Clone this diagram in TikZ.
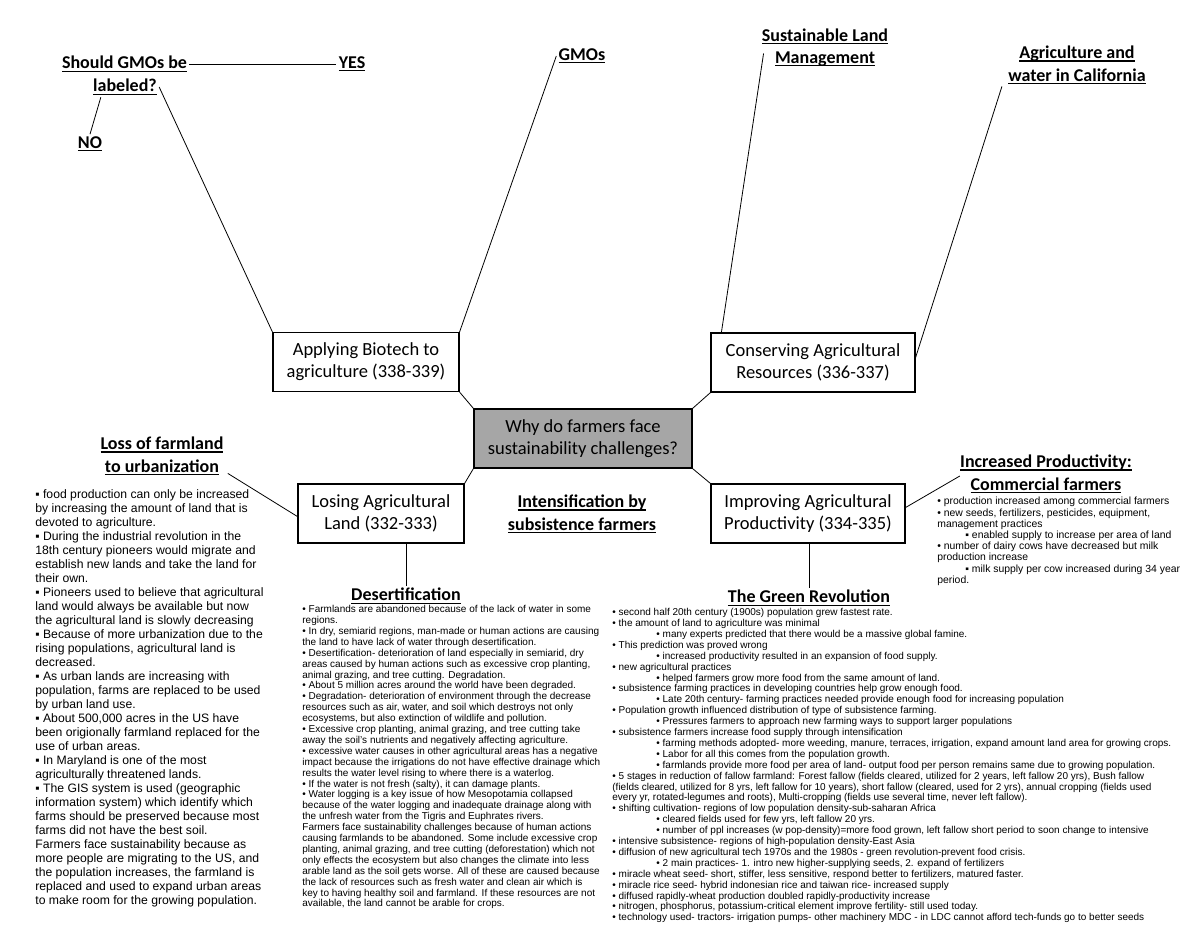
\documentclass[tikz,border=0pt]{standalone}
\usepackage{fontspec}
\setmainfont{Liberation Sans}
\newfontfamily\calfont{Carlito}
\usetikzlibrary{calc}
\newcommand\uline[1]{\leavevmode\setbox0=\hbox{#1}\rlap{\rule[-1.5pt]{\wd0}{0.6pt}}\box0}
\newcommand\ind{\hspace*{22pt}}
\newcommand\sind{\hspace*{14pt}}
\begin{document}
\begin{tikzpicture}[x=0.5pt,y=-0.5pt,
  box/.style={draw, line width=0.6pt, align=center, font=\calfont\fontsize{9.25}{11}\selectfont, inner sep=0pt},
  ttl/.style={align=center, font=\calfont\bfseries\fontsize{9}{11.2}\selectfont, inner sep=1pt},
  link/.style={line width=0.4pt},
  bigtxt/.style={anchor=north west, align=left, inner sep=0pt, font=\fontsize{6.1}{7}\selectfont},
  smalltxt/.style={anchor=north west, align=left, inner sep=0pt, font=\fontsize{5}{5.45}\selectfont},
  commtxt/.style={anchor=north west, align=left, inner sep=0pt, font=\fontsize{5.2}{5.6}\selectfont},
]
\useasboundingbox (0,0) rectangle (1200,927);
\fill[white] (0,0) rectangle (1200,927);

% boxes
\node[box, minimum width=93pt, minimum height=29.5pt] (bio) at (366,362) {Applying Biotech to\\agriculture (338-339)};
\node[box, minimum width=102pt, minimum height=29.5pt] (cons) at (813,362.5) {Conserving Agricultural\\Resources (336-337)};
\node[box, minimum width=109pt, minimum height=29.5pt, fill={rgb,255:red,166;green,166;blue,166}] (ctr) at (583,438.5) {Why do farmers face\\sustainability challenges?};
\node[box, minimum width=83pt, minimum height=29.5pt] (losing) at (381,513.5) {Losing Agricultural\\Land (332-333)};
\node[box, minimum width=97pt, minimum height=29.5pt] (imp) at (808,513.5) {Improving Agricultural\\Productivity (334-335)};

% titles
\node[ttl] (q1) at (124.5,64) {\uline{Should GMOs be}};
\node[ttl] (q2) at (125,87) {\uline{labeled?}};
\node[ttl] (yes) at (352,64) {\uline{YES}};
\node[ttl] (no) at (90,144) {\uline{NO}};
\node[ttl] (gmo) at (582,56) {\uline{GMOs}};
\node[ttl] (slm) at (825,47.5) {\uline{Sustainable Land}\\\uline{Management}};
\node[ttl] (cal) at (1077,65) {\uline{Agriculture and}\\\uline{water in California}};
\node[ttl] (loss) at (162,456) {\uline{Loss of farmland}\\\uline{to urbanization}};
\node[ttl] (intens) at (582,514) {\uline{Intensification by}\\\uline{subsistence farmers}};
\node[ttl] (comm) at (1046,474) {\uline{Increased Productivity:}\\\uline{Commercial farmers}};
\node[ttl] (desert) at (406,596) {\uline{Desertification}};
\node[ttl] (green) at (809,598) {\uline{The Green Revolution}};

% connectors
\draw[link] (q1.east) -- (yes.west);
\draw[link] ($(q2.south west)+(10,0)$) -- (no.north);
\draw[link] (q2.east) -- (bio.north west);
\draw[link] (gmo.west) -- (bio.north east);
\draw[link] ($(slm.west)+(4,6)$) -- ($(cons.north west)+(11,0)$);
\draw[link] ($(cal.south west)+(-4,0)$) -- ($(cons.east)+(0,-5)$);
\draw[link] (bio.south east) -- (ctr.north west);
\draw[link] (cons.south west) -- (ctr.north east);
\draw[link] (losing.north east) -- (ctr.south west);
\draw[link] (imp.north west) -- (ctr.south east);
\draw[link] ($(loss.south east)+(2,-4)$) -- ($(losing.west)+(0,3)$);
\draw[link] (desert.north) -- (desert.north |- losing.south);
\draw[link] (green.north) -- (green.north |- imp.south);
\draw[link] ($(imp.east)+(0,-6)$) -- ($(comm.west)+(2,2)$);
\draw[link] ($(intens.east)+(0,5)$) -- ($(intens.east)+(0,5)$ -| imp.west);

% text blocks
\node[bigtxt] (lefttxt) at (35,489) {%
▪ food production can only be increased\\
by increasing the amount of land that is\\
devoted to agriculture.\\
▪ During the industrial revolution in the\\
18th century pioneers would migrate and\\
establish new lands and take the land for\\
their own.\\
▪ Pioneers used to believe that agricultural\\
land would always be available but now\\
the agricultural land is slowly decreasing\\
▪ Because of more urbanization due to the\\
rising populations, agricultural land is\\
decreased.\\
▪ As urban lands are increasing with\\
population, farms are replaced to be used\\
by urban land use.\\
▪ About 500,000 acres in the US have\\
been origionally farmland replaced for the\\
use of urban areas.\\
▪ In Maryland is one of the most\\
agriculturally threatened lands.\\
▪ The GIS system is used (geographic\\
information system) which identify which\\
farms should be preserved because most\\
farms did not have the best soil.\\
Farmers face sustainability because as\\
more people are migrating to the US, and\\
the population increases, the farmland is\\
replaced and used to expand urban areas\\
to make room for the growing population.};

\node[smalltxt] (deserttxt) at (302,605) {%
• Farmlands are abandoned because of the lack of water in some\\
regions.\\
• In dry, semiarid regions, man-made or human actions are causing\\
the land to have lack of water through desertification.\\
• Desertification- deterioration of land especially in semiarid, dry\\
areas caused by human actions such as excessive crop planting,\\
animal grazing, and tree cutting. Degradation.\\
• About 5 million acres around the world have been degraded.\\
• Degradation- deterioration of environment through the decrease\\
resources such as air, water, and soil which destroys not only\\
ecosystems, but also extinction of wildlife and pollution.\\
• Excessive crop planting, animal grazing, and tree cutting take\\
away the soil's nutrients and negatively affecting agriculture.\\
• excessive water causes in other agricultural areas has a negative\\
impact because the irrigations do not have effective drainage which\\
results the water level rising to where there is a waterlog.\\
• If the water is not fresh (salty), it can damage plants.\\
• Water logging is a key issue of how Mesopotamia collapsed\\
because of the water logging and inadequate drainage along with\\
the unfresh water from the Tigris and Euphrates rivers.\\
Farmers face sustainability challenges because of human actions\\
causing farmlands to be abandoned. Some include excessive crop\\
planting, animal grazing, and tree cutting (deforestation) which not\\
only effects the ecosystem but also changes the climate into less\\
arable land as the soil gets worse. All of these are caused because\\
the lack of resources such as fresh water and clean air which is\\
key to having healthy soil and farmland. If these resources are not\\
available, the land cannot be arable for crops.};

\node[smalltxt] (greentxt) at (612,608) {%
• second half 20th century (1900s) population grew fastest rate.\\
• the amount of land to agriculture was minimal\\
\ind• many experts predicted that there would be a massive global famine.\\
• This prediction was proved wrong\\
\ind• increased productivity resulted in an expansion of food supply.\\
• new agricultural practices\\
\ind• helped farmers grow more food from the same amount of land.\\
• subsistence farming practices in developing countries help grow enough food.\\
\ind• Late 20th century- farming practices needed provide enough food for increasing population\\
• Population growth influenced distribution of type of subsistence farming.\\
\ind• Pressures farmers to approach new farming ways to support larger populations\\
• subsistence farmers increase food supply through intensification\\
\ind• farming methods adopted- more weeding, manure, terraces, irrigation, expand amount land area for growing crops.\\
\ind• Labor for all this comes from the population growth.\\
\ind• farmlands provide more food per area of land- output food per person remains same due to growing population.\\
• 5 stages in reduction of fallow farmland: Forest fallow (fields cleared, utilized for 2 years, left fallow 20 yrs), Bush fallow\\
(fields cleared, utilized for 8 yrs, left fallow for 10 years), short fallow (cleared, used for 2 yrs), annual cropping (fields used\\
every yr, rotated-legumes and roots), Multi-cropping (fields use several time, never left fallow).\\
• shifting cultivation- regions of low population density-sub-saharan Africa\\
\ind• cleared fields used for few yrs, left fallow 20 yrs.\\
\ind• number of ppl increases (w pop-density)=more food grown, left fallow short period to soon change to intensive\\
• intensive subsistence- regions of high-population density-East Asia\\
• diffusion of new agricultural tech 1970s and the 1980s - green revolution-prevent food crisis.\\
\ind• 2 main practices- 1. intro new higher-supplying seeds, 2. expand of fertilizers\\
• miracle wheat seed- short, stiffer, less sensitive, respond better to fertilizers, matured faster.\\
• miracle rice seed- hybrid indonesian rice and taiwan rice- increased supply\\
• diffused rapidly-wheat production doubled rapidly-productivity increase\\
• nitrogen, phosphorus, potassium-critical element improve fertility- still used today.\\
• technology used- tractors- irrigation pumps- other machinery MDC - in LDC cannot afford tech-funds go to better seeds};

\node[commtxt] (commtxt) at (937,497) {%
• production increased among commercial farmers\\
• new seeds, fertilizers, pesticides, equipment,\\
management practices\\
\sind▪ enabled supply to increase per area of land\\
• number of dairy cows have decreased but milk\\
production increase\\
\sind▪ milk supply per cow increased during 34 year\\
period.};
\end{tikzpicture}
\end{document}
